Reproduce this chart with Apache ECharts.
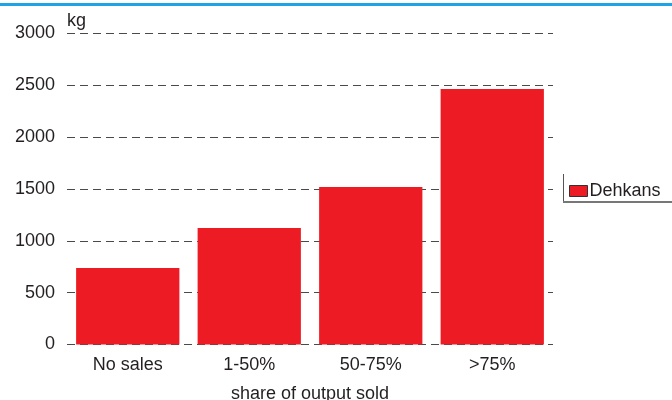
<!DOCTYPE html>
<html>
<head>
<meta charset="utf-8">
<script src="https://cdn.jsdelivr.net/npm/echarts@6/dist/echarts.min.js"></script>
<style>
  html, body { margin: 0; padding: 0; background: #fff; }
  #chart { width: 672px; height: 400px; }
</style>
</head>
<body>
<div id="chart"></div>
<script>
// Average output (kg) by share of output sold
const categories = ['No sales', '1-50%', '50-75%', '>75%'];
const seriesName = 'Dehkans';
const dehkansValues = [738, 1124, 1519, 2465];
const yAxisUnit = 'kg';
const xAxisTitle = 'share of output sold';

const FONT = '"Liberation Sans", Arial, Helvetica, sans-serif';
const TEXT = '#231f20';
const RED = '#ed1c24';

const chart = echarts.init(document.getElementById('chart'), null, { renderer: 'canvas' });

chart.setOption({
  animation: false,
  backgroundColor: '#fff',
  grid: { left: 67, right: 119, top: 33.5, bottom: 55.5, containLabel: false, outerBoundsMode: 'none' },
  legend: {
    data: [seriesName],
    left: 569,
    top: 182,
    orient: 'vertical',
    icon: 'rect',
    itemWidth: 18,
    itemHeight: 11,
    itemGap: 4,
    padding: 0,
    textStyle: { fontFamily: FONT, fontSize: 18, color: TEXT, padding: [0, 0, 0, -3] },
    itemStyle: { borderColor: '#333', borderWidth: 1 }
  },
  xAxis: {
    type: 'category',
    data: categories,
    name: xAxisTitle,
    nameLocation: 'middle',
    nameGap: 41,
    nameTextStyle: { fontFamily: FONT, fontSize: 18, color: TEXT },
    axisLine: { show: false },
    axisTick: { show: false },
    axisLabel: { fontFamily: FONT, fontSize: 18, color: TEXT, margin: 12 }
  },
  yAxis: {
    type: 'value',
    min: 0,
    max: 3000,
    interval: 500,
    name: yAxisUnit,
    nameLocation: 'end',
    nameGap: 3,
    nameTextStyle: { fontFamily: FONT, fontSize: 18, color: TEXT, align: 'left' },
    axisLine: { show: false },
    axisTick: { show: false },
    axisLabel: {
      fontFamily: FONT, fontSize: 18, color: TEXT, margin: 12,
      formatter: function (v) { return String(v); }
    },
    splitLine: {
      show: true,
      lineStyle: { color: '#4a4a4a', width: 1, type: [8, 5] }
    }
  },
  series: [{
    name: seriesName,
    type: 'bar',
    data: dehkansValues,
    barCategoryGap: '15%',
    itemStyle: { color: RED },
    z: 3
  }],
  graphic: [
    // top rule
    { type: 'rect', shape: { x: 0, y: 3, width: 672, height: 3 }, style: { fill: '#1fa3e6' }, silent: true },
    // legend frame (left and bottom edges)
    { type: 'line', shape: { x1: 563.5, y1: 174, x2: 563.5, y2: 203 }, style: { stroke: '#555', lineWidth: 1 }, silent: true },
    { type: 'line', shape: { x1: 563, y1: 202, x2: 672, y2: 202 }, style: { stroke: '#777', lineWidth: 2 }, silent: true }
  ]
});
</script>
</body>
</html>
